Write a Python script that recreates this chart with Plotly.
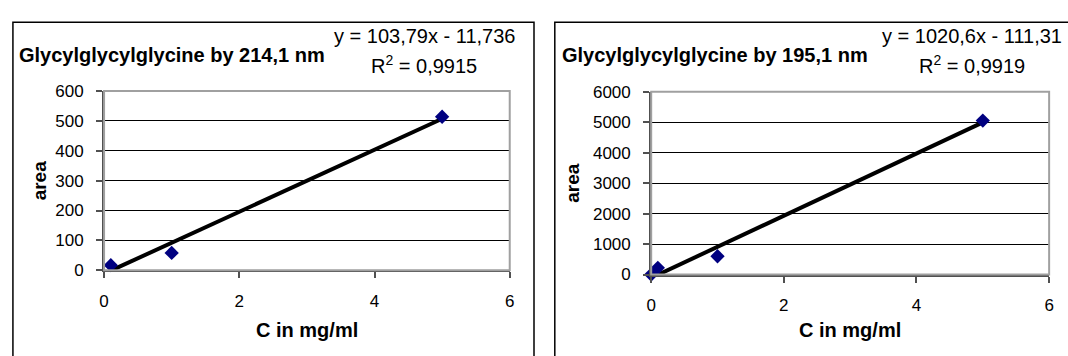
import plotly.graph_objects as go

W, H = 1068, 356

# ---- data ----
conc_214 = [0.1, 1, 5]
area_214 = [17, 58, 514]
conc_195 = [0, 0.1, 1, 5]
area_195 = [0, 220, 600, 5050]

titles = ["Glycylglycylglycine by 214,1 nm", "Glycylglycylglycine by 195,1 nm"]
eq_text = ["y = 103,79x - 11,736", "y = 1020,6x - 111,31"]
r2_text = ["0,9915", "0,9919"]
slopes = [103.79, 1020.6]
intercepts = [-11.736, -111.31]
x_ticks = [0, 2, 4, 6]
y_ticks_214 = [0, 100, 200, 300, 400, 500, 600]
y_ticks_195 = [0, 1000, 2000, 3000, 4000, 5000, 6000]

FONT = "Liberation Sans, Arial, sans-serif"

def px(x):
    return x / W

def py(y):
    return 1 - y / H

fig = go.Figure()

datasets = [(conc_214, area_214, "x", "y"), (conc_195, area_195, "x2", "y2")]
for i, (xs, ys, xa, ya) in enumerate(datasets):
    x0, x1 = min(xs), max(xs)
    fig.add_trace(go.Scatter(
        x=[x0, x1], y=[slopes[i] * x0 + intercepts[i], slopes[i] * x1 + intercepts[i]],
        mode="lines", line=dict(color="black", width=4),
        xaxis=xa, yaxis=ya, showlegend=False, hoverinfo="skip"))
    fig.add_trace(go.Scatter(
        x=xs, y=ys, mode="markers",
        marker=dict(symbol="diamond", size=11, color="#000080"),
        xaxis=xa, yaxis=ya, showlegend=False, cliponaxis=False))

# plot area geometry (px)
areas = [
    dict(l=100, r=509.5, t=86.7, b=276),
    dict(l=652.3, r=1054, t=87.3, b=280.5),
]

axis_common = dict(
    showline=True, linecolor="#505050", linewidth=2,
    ticks="outside", ticklen=6, tickwidth=1.5, tickcolor="#505050",
    tickfont=dict(family=FONT, size=17, color="black"),
    zeroline=False, fixedrange=True,
)

layout = dict(
    width=W, height=H, margin=dict(l=0, r=0, t=0, b=0),
    paper_bgcolor="white", plot_bgcolor="white", showlegend=False,
)
yranges = [[0, 600], [0, 6000]]
yticks = [y_ticks_214, y_ticks_195]
for i, a in enumerate(areas):
    sfx = "" if i == 0 else "2"
    layout["xaxis" + sfx] = dict(
        axis_common, domain=[px(a["l"]), px(a["r"])], range=[0, 6],
        tickvals=x_ticks, showgrid=False, anchor="y" + sfx,
        ticklabelstandoff=8)
    layout["yaxis" + sfx] = dict(
        axis_common, domain=[py(a["b"]), py(a["t"])], range=yranges[i],
        tickvals=yticks[i], showgrid=True, gridcolor="black", gridwidth=1,
        anchor="x" + sfx, ticklabelstandoff=9)

fig.update_layout(**layout)

shapes = []
# chart outer boxes
shapes.append(dict(type="rect", xref="paper", yref="paper",
                   x0=px(8), x1=px(534), y0=py(370), y1=py(14),
                   line=dict(color="black", width=1.5), layer="below"))
shapes.append(dict(type="rect", xref="paper", yref="paper",
                   x0=px(555), x1=px(1080), y0=py(370), y1=py(14),
                   line=dict(color="black", width=1.5), layer="below"))
# plot-area borders (grey)
for i in range(2):
    sfx = "" if i == 0 else "2"
    shapes.append(dict(type="rect", xref="x" + sfx + " domain", yref="y" + sfx + " domain",
                       x0=0, x1=1, y0=0, y1=1,
                       line=dict(color="#a0a0a0", width=2), layer="above"))
fig.update_layout(shapes=shapes)

ann = []
title_x = [12, 560]
eq_cx = [423, 976]
area_x = [35, 572]
for i, a in enumerate(areas):
    ann.append(dict(text="<b>" + titles[i] + "</b>", x=px(title_x[i]), y=py(49),
                    xref="paper", yref="paper", xanchor="left", yanchor="middle",
                    showarrow=False, font=dict(family=FONT, size=20, color="black")))
    ann.append(dict(text=eq_text[i], x=px(eq_cx[i]), y=py(28),
                    xref="paper", yref="paper", xanchor="center", yanchor="middle",
                    showarrow=False, font=dict(family=FONT, size=20, color="black")))
    ann.append(dict(text="R<sup>2</sup> = " + r2_text[i], x=px(eq_cx[i]), y=py(59),
                    xref="paper", yref="paper", xanchor="center", yanchor="middle",
                    showarrow=False, font=dict(family=FONT, size=20, color="black")))
    ann.append(dict(text="<b>area</b>", x=px(area_x[i]), y=py((a["t"] + a["b"]) / 2),
                    xref="paper", yref="paper", xanchor="center", yanchor="middle",
                    textangle=-90, showarrow=False,
                    font=dict(family=FONT, size=19, color="black")))
    ann.append(dict(text="<b>C in mg/ml</b>", x=px((a["l"] + a["r"]) / 2), y=py(339),
                    xref="paper", yref="paper", xanchor="center", yanchor="middle",
                    showarrow=False, font=dict(family=FONT, size=20, color="black")))
fig.update_layout(annotations=ann)

fig.write_html("out.html")
